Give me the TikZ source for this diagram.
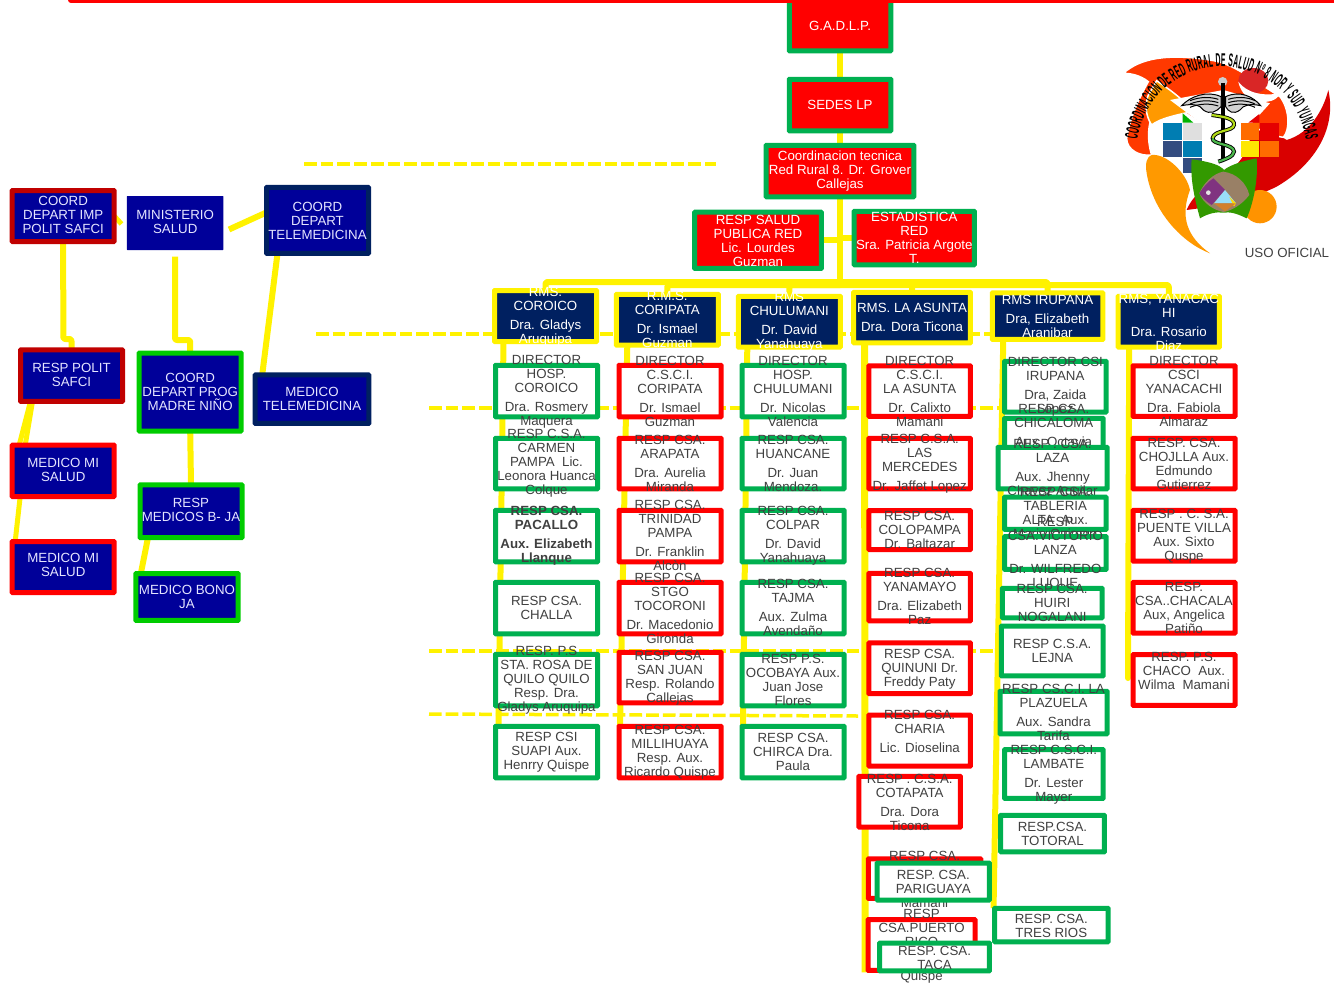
\documentclass[tikz,border=0pt]{standalone}
\usepackage{fontspec}
\setmainfont{Liberation Sans}
\newfontfamily\logofam[FakeStretch=0.37,BoldFeatures={FakeStretch=0.37}]{Liberation Sans}
\newcommand{\logofont}{\logofam\bfseries\fontsize{18.5}{18.5}\selectfont}
\usetikzlibrary{decorations.text,backgrounds}
\definecolor{boxgreen}{HTML}{00B050}
\definecolor{leftgreen}{HTML}{00CC00}
\definecolor{navyhead}{HTML}{002060}
\definecolor{leftblue}{HTML}{000099}
\definecolor{darkred}{HTML}{C00000}
\definecolor{bodygray}{HTML}{404040}
\tikzset{
  basebox/.style={rectangle, rounded corners=0.5pt, inner sep=0pt, outer sep=0pt, line width=5pt},
  greenbox/.style={basebox, draw=boxgreen, fill=white},
  redbox/.style={basebox, draw=red, fill=white},
  topbox/.style={basebox, draw=boxgreen, fill=red},
  headbox/.style={basebox, draw=yellow, fill=navyhead},
  leftbase/.style={basebox, fill=leftblue},
  leftred/.style={leftbase, draw=red},
  leftdark/.style={leftbase, draw=darkred},
  leftnavy/.style={leftbase, draw=navyhead},
  leftlime/.style={leftbase, draw=leftgreen},
  leftplain/.style={basebox, fill=leftblue},
  boxtext/.style={align=center, inner sep=0pt, yshift=-1pt, font=\fontsize{13.3}{14}\selectfont},
  darktext/.style={boxtext, text=bodygray},
  whitetext/.style={boxtext, text=white},
  lighttext/.style={boxtext, text=white!90!blue},
  link/.style={yellow, line width=6pt, line join=round},
  dashlink/.style={yellow, line width=3.5pt, dash pattern=on 12.7pt off 4pt},
}
% box: style, name, x, y, w, h, y of the text, text
\newcommand{\obox}[8]{%
  \node[#1, minimum width=#5pt, minimum height=#6pt] (#2) at (#3,#4) {};
  \node[darktext] (#2Text) at (#3,#7) {#8};}
\newcommand{\wbox}[8]{%
  \node[#1, minimum width=#5pt, minimum height=#6pt] (#2) at (#3,#4) {};
  \node[whitetext] (#2Text) at (#3,#7) {#8};}
\newcommand{\lbox}[8]{%
  \node[#1, minimum width=#5pt, minimum height=#6pt] (#2) at (#3,#4) {};
  \node[lighttext] (#2Text) at (#3,#7) {#8};}
\begin{document}
\begin{tikzpicture}[x=1pt,y=-1pt]
    \useasboundingbox (0,0) rectangle (1334,983);

    % top of the chart
    \wbox{topbox}{gadlp}{840}{22.5}{101.5}{56.5}{25}{G.A.D.L.P.}
    \wbox{topbox}{sedes}{840}{105}{101.5}{51.5}{104}{SEDES LP}
    \wbox{topbox}{coordTec}{840}{171}{147.8}{51.5}{170}{Coordinacion tecnica\\Red Rural 8. Dr. Grover\\Callejas}
    \wbox{topbox}{saludPub}{758}{240.3}{126.8}{56.2}{239.5}{RESP SALUD\\PUBLICA RED\\Lic. Lourdes\\Guzman}
    \wbox{topbox}{estadistica}{914.3}{238}{120.2}{53.5}{237}{ESTADISTICA\\RED\\Sra. Patricia Argote\\T.}
    \draw [red, line width=6pt, line cap=round] (71,0) -- (1345,0);

    % left side
    \lbox{leftdark}{impSafci}{63.2}{216}{102}{51}{214}{COORD\\DEPART IMP\\POLIT SAFCI}
    \lbox{leftplain}{ministerio}{175.2}{223}{96.5}{54}{221}{MINISTERIO\\SALUD}
    \lbox{leftnavy}{coordTele}{317.5}{220.4}{102}{66}{219.5}{COORD\\DEPART\\TELEMEDICINA}
    \lbox{leftdark}{politSafci}{71.5}{375.7}{102}{51.5}{373.5}{RESP POLIT\\SAFCI}
    \lbox{leftlime}{progMadre}{190.2}{392}{102}{78}{391}{COORD\\DEPART PROG\\MADRE NIÑO}
    \lbox{leftnavy}{medicoTele}{312}{399.2}{113.6}{48.5}{398}{MEDICO\\TELEMEDICINA}
    \lbox{leftred}{medicoMiA}{63.2}{470.8}{102}{51.4}{469}{MEDICO MI\\SALUD}
    \lbox{leftred}{medicoMiB}{63.2}{567}{102}{51}{564}{MEDICO MI\\SALUD}
    \lbox{leftlime}{respBono}{191}{511.2}{102}{52.6}{509}{RESP\\MEDICOS B- JA}
    \lbox{leftlime}{medicoBono}{187}{597}{102.4}{46.7}{595.5}{MEDICO BONO\\JA}

    % heads of the six networks
    \wbox{headbox}{rmsCoroico}{545.5}{316}{102}{51}{315.5}{RMS.\\COROICO\\[5pt]Dra. Gladys\\Aruquipa}
    \wbox{headbox}{rmsCoripata}{667.3}{319.7}{102}{50.8}{318.5}{R.M.S.\\CORIPATA\\[5pt]Dr. Ismael\\Guzman}
    \wbox{headbox}{rmsChulumani}{789.3}{321.7}{102}{50.8}{321}{RMS\\CHULUMANI\\[5pt]Dr. David\\Yanahuaya}
    \wbox{headbox}{rmsAsunta}{912}{317.5}{116.9}{50.5}{316.5}{RMS. LA ASUNTA\\[5pt]Dra. Dora Ticona}
    \wbox{headbox}{rmsIrupana}{1047.5}{316.2}{110.5}{46.5}{315}{RMS IRUPANA\\[5pt]Dra, Elizabeth\\Aranibar}
    \wbox{headbox}{rmsYanacachi}{1168.8}{321.7}{101.2}{50.8}{321.5}{RMS, YANACAC\\HI\\[5pt]Dra. Rosario\\Diaz}

    % first column
    \obox{greenbox}{coroicoA}{546.5}{391}{102}{51.5}{390.5}{DIRECTOR\\HOSP.\\COROICO\\[5pt]Dra. Rosmery\\Maquera}
    \obox{greenbox}{coroicoB}{546.5}{463.5}{102}{50.5}{462.5}{RESP C.S.A.\\CARMEN\\PAMPA~ Lic.\\Leonora Huanca\\Colque}
    \obox{greenbox}{coroicoC}{546.5}{536}{102}{51.5}{534.5}{\bfseries RESP CSA.\\\bfseries PACALLO\\[5pt]\bfseries Aux. Elizabeth\\\bfseries Llanque}
    \obox{greenbox}{coroicoD}{546.5}{608}{102}{51.5}{607}{RESP CSA.\\CHALLA}
    \obox{greenbox}{coroicoE}{546.5}{680}{102}{51.5}{679}{RESP. P.S\\STA. ROSA DE\\QUILO QUILO\\Resp. Dra.\\Gladys Aruquipa}
    \obox{greenbox}{coroicoF}{546.5}{752}{102}{51.5}{751}{RESP CSI\\SUAPI Aux.\\Henrry Quispe}

    % second column
    \obox{redbox}{coripataA}{670}{391}{102}{51.5}{390.5}{DIRECTOR\\C.S.C.I.\\CORIPATA\\[5pt]Dr. Ismael\\Guzman}
    \obox{redbox}{coripataB}{670}{463.5}{102}{50.5}{462.5}{RESP CSA.\\ARAPATA\\[5pt]Dra. Aurelia\\Miranda}
    \obox{redbox}{coripataC}{670}{536}{102}{51.5}{534.5}{RESP CSA.\\TRINIDAD\\PAMPA\\[5pt]Dr. Franklin\\Alcòn}
    \obox{redbox}{coripataD}{670}{608}{102}{51.5}{607}{RESP CSA.\\STGO\\TOCORONI\\[5pt]Dr. Macedonio\\Gironda}
    \obox{redbox}{coripataE}{670}{677.5}{102}{50.5}{677}{RESP CSA.\\SAN JUAN\\Resp. Rolando\\Callejas}
    \obox{redbox}{coripataF}{670}{752}{102}{51.5}{751.5}{RESP CSA.\\MILLIHUAYA\\Resp. Aux.\\Ricardo Quispe}

    % third column
    \obox{greenbox}{chulumaniA}{793}{391}{102}{51.5}{390.5}{DIRECTOR\\HOSP.\\CHULUMANI\\[5pt]Dr. Nicolas\\Valencia}
    \obox{greenbox}{chulumaniB}{793}{463.5}{102}{50.5}{462.5}{RESP CSA.\\HUANCANE\\[5pt]Dr. Juan\\Mendoza.}
    \obox{greenbox}{chulumaniC}{793}{536}{102}{51.5}{534.5}{RESP CSA.\\COLPAR\\[5pt]Dr. David\\Yanahuaya}
    \obox{greenbox}{chulumaniD}{793}{608}{102}{51.5}{606.5}{RESP CSA.\\TAJMA\\[5pt]Aux. Zulma\\Avendaño}
    \obox{greenbox}{chulumaniE}{793}{680}{102}{51.5}{679}{RESP P.S.\\OCOBAYA Aux.\\Juan Jose\\Flores}
    \obox{greenbox}{chulumaniF}{793}{752}{102}{51.5}{751}{RESP CSA.\\CHIRCA Dra.\\Paula}

    % fourth column
    \obox{redbox}{asuntaA}{919.7}{391}{101.5}{50.5}{390.5}{DIRECTOR\\C.S.C.I.\\LA ASUNTA\\[5pt]Dr. Calixto\\Mamani}
    \obox{redbox}{asuntaB}{919.7}{463.5}{101.5}{50.5}{462.5}{RESP C.S.A.\\LAS\\MERCEDES\\[5pt]Dr. Jaffet Lopez}
    \obox{redbox}{asuntaC}{919.7}{530}{101.5}{39}{529}{RESP CSA.\\COLOPAMPA\\Dr. Baltazar}
    \obox{redbox}{asuntaD}{919.7}{597}{101.5}{47.5}{595.5}{RESP CSA.\\YANAMAYO\\[5pt]Dra. Elizabeth\\Paz}
    \obox{redbox}{asuntaE}{919.7}{668.3}{101.5}{50.8}{668}{RESP CSA.\\QUINUNI Dr.\\Freddy Paty}
    \obox{redbox}{asuntaF}{919.7}{740.5}{101.5}{51}{730.5}{RESP CSA.\\CHARIA\\[5pt]Lic. Dioselina}
    \obox{redbox}{asuntaG}{909.7}{801.7}{101.5}{50.8}{801.5}{RESP . C.S.A.\\COTAPATA\\[5pt]Dra. Dora\\Ticona}
    \obox{redbox}{asuntaH}{924.5}{878.7}{112.5}{39.5}{878.5}{RESP CSA.\\[33pt]Mamani}
    \obox{greenbox}{asuntaI}{933.3}{881.5}{112.2}{37}{881}{RESP. CSA.\\PARIGUAYA}
    \obox{redbox}{asuntaJ}{921.6}{945}{106.8}{50.9}{945}{RESP\\CSA.PUERTO\\RICO\\[20pt]Quispe}
    \obox{greenbox}{asuntaK}{934.5}{957}{109.9}{27.8}{957}{RESP. CSA.\\TACA}

    % fifth column, the boxes lie over one another
    \obox{greenbox}{irupanaA}{1055.3}{386.7}{101.5}{50.8}{385.5}{DIRECTOR CSI\\IRUPANA\\[5pt]Dra, Zaida\\Lopez}
    \obox{greenbox}{irupanaB}{1053.8}{443}{98.5}{49.5}{424.5}{RESP CSA.\\CHICALOMA\\[5pt]Aux. Octavia}
    \obox{greenbox}{irupanaC}{1052.5}{468}{109}{41.5}{467.5}{RESP . CSA.\\LAZA\\[5pt]Aux. Jhenny\\Chavez Aguilar}
    \obox{greenbox}{irupanaD}{1055.3}{513.3}{101.5}{32.2}{513.5}{RESP CSA.\\TABLERIA\\ALTA~ Aux.\\Maria Quiroga}
    \obox{greenbox}{irupanaE}{1055.3}{553}{101.5}{32.9}{552.5}{RESP\\CSA.VICTORIO\\LANZA\\[5pt]Dr. WILFREDO\\LUQUE}
    \obox{greenbox}{irupanaF}{1052.2}{603}{99.8}{29.5}{602}{RESP CSA.\\HUIRI\\NOGALANI}
    \obox{greenbox}{irupanaG}{1052.2}{651}{101.8}{49.8}{650}{RESP C.S.A.\\LEJNA}
    \obox{greenbox}{irupanaH}{1053.5}{712.5}{107}{42.5}{711.5}{RESP CS.C.I. LA\\PLAZUELA\\[5pt]Aux. Sandra\\Tarifa}
    \obox{greenbox}{irupanaI}{1053.8}{774}{98.5}{48.9}{773.5}{RESP C.S.C.I.\\LAMBATE\\[5pt]Dr. Lester\\Mayer}
    \obox{greenbox}{irupanaJ}{1052.5}{833.5}{103.9}{36.5}{833}{RESP.CSA.\\TOTORAL}
    \obox{greenbox}{irupanaK}{1051.3}{925}{113.5}{33.5}{925}{RESP. CSA.\\TRES RIOS}

    % sixth column
    \obox{redbox}{yanacachiA}{1184}{391}{102}{50.5}{390.5}{DIRECTOR\\CSCI\\YANACACHI\\[5pt]Dra. Fabiola\\Almaraz}
    \obox{redbox}{yanacachiB}{1184}{463.5}{102}{50.5}{462.5}{RESP. CSA.\\CHOJLLA Aux.\\Edmundo\\Gutierrez}
    \obox{redbox}{yanacachiC}{1184}{535.7}{102}{50.8}{535.5}{RESP . C. S.A.\\PUENTE VILLA\\Aux. Sixto\\Quspe}
    \obox{redbox}{yanacachiD}{1184}{607.7}{102}{50.8}{607}{RESP.\\CSA..CHACALA\\Aux, Angelica\\Patiño}
    \obox{redbox}{yanacachiE}{1184}{680}{102}{50.8}{669.5}{RESP. P.S.\\CHACO~ Aux.\\Wilma~ Mamani}

    \coordinate (busTop) at (840,282);
    \coordinate (busLow) at (840,285);
    \coordinate (dashOneA) at (304,164);
    \coordinate (dashOneB) at (716,164);
    \coordinate (dashTwoA) at (316,334);
    \coordinate (dashTwoB) at (992,334);
    \coordinate (dashThreeA) at (429,408);
    \coordinate (dashThreeB) at (1004,408);
    \coordinate (dashFourA) at (429,651);
    \coordinate (dashFourB) at (1001,651);
    \coordinate (dashFiveA) at (429,714);
    \coordinate (dashFiveB) at (858,716);
    \coordinate (stubImp) at (121.5,224);
    \coordinate (stubTele) at (229,229.5);
    \coordinate (stubProg) at (175,256.5);
    \coordinate (bendImp) at (63.3,339);
    \coordinate (bendProg) at (175,340);

    \begin{pgfonlayer}{background}
    \draw [dashlink] (dashOneA) -- (dashOneB);
    \draw [dashlink] (dashTwoA) -- (dashTwoB);
    \draw [dashlink] (dashThreeA) -- (dashThreeB);
    \draw [dashlink] (dashFourA) -- (dashFourB);
    \draw [dashlink] (dashFiveA) -- (dashFiveB);

    \draw [link] (gadlp.south) -- (sedes.north);
    \draw [link] (sedes.south) -- (coordTec.north);
    \draw [link] (coordTec.south) -- (busTop);
    \draw [link] (saludPub.east) -- (saludPub.east -| coordTec.south);
    \draw [link] (estadistica.west) -- (estadistica.west -| coordTec.south);

    \draw [link, rounded corners=2pt] (busTop) -| (rmsCoroico.north);
    \draw [link, rounded corners=2pt] (busLow) -| (rmsCoripata.north);
    \draw [link, rounded corners=2pt] (busLow) -| (rmsChulumani.north);
    \draw [link, rounded corners=2pt] (busTop) -| (rmsAsunta.north);
    \draw [link, rounded corners=2pt] (busTop) -| (rmsIrupana.north);
    \draw [link, rounded corners=2pt] (busLow) -| (rmsYanacachi.north);

    \draw [link] ([xshift=9pt]rmsCoroico.south west) -- ([xshift=3pt]coroicoF.north west);
    \draw [link] ([xshift=11pt]rmsCoripata.south west) -- ([xshift=1pt]coripataF.north west);
    \draw [link] ([xshift=9pt]rmsChulumani.south west) -- ([xshift=1pt]chulumaniF.north west);
    \draw [link, line width=7pt] ([xshift=11pt]rmsAsunta.south west) -- ([xshift=-3pt, yshift=-2pt]asuntaJ.south west);
    \draw [link] ([xshift=11pt]rmsIrupana.south west) -- ([xshift=-1pt]irupanaK.north west);
    \draw [link, line cap=round] ([xshift=11pt]rmsYanacachi.south west) -- ([xshift=-5pt, yshift=2pt]yanacachiE.west);

    \draw [link, line width=5pt] (impSafci.east) -- (stubImp);
    \draw [link] (stubTele) -- ([yshift=8pt]coordTele.west);
    \draw [link, rounded corners=2pt] (impSafci.south) -- (bendImp) -| (politSafci.north);
    \draw [link, rounded corners=2pt] (stubProg) -- (bendProg) -| (progMadre.north);
    \draw [link] ([xshift=11pt]coordTele.south west) -- ([xshift=7pt]medicoTele.north west);
    \draw [link] (progMadre.south) -- (respBono.north);
    \draw [link] ([xshift=8pt]respBono.south west) -- ([xshift=5pt]medicoBono.north west);
    \draw [link, line width=5pt] ([xshift=10pt]politSafci.south west) -- ([xshift=7pt]medicoMiA.north west);
    \draw [link, line width=5pt] ([xshift=12pt]politSafci.south west) -- ([xshift=13pt]medicoMiA.north west);
    \draw [link, line width=5pt] ([xshift=8pt]medicoMiA.south west) -- ([xshift=3pt]medicoMiB.north west);
    \end{pgfonlayer}

    % logo
    \begin{scope}[shift={(1110,40)},x=0.3333pt,y=-0.3333pt]
    \fill [red!85!black] (655,150) .. controls (680,260) and (620,370) .. (500,440) .. controls (420,480) and (310,500) .. (230,510) .. controls (250,460) and (300,430) .. (350,400) .. controls (420,350) and (430,280) .. (420,230) -- (530,300) .. controls (600,280) and (640,210) .. (655,150) -- cycle;
    \draw [white, line width=1.5pt, fill=red!55!orange] (40,100) .. controls (90,55) and (170,40) .. (300,60) .. controls (370,70) and (430,120) .. (510,170) .. controls (540,210) and (540,270) .. (520,292) .. controls (470,285) and (430,260) .. (400,240) -- (340,290) .. controls (280,260) and (200,190) .. (150,190) .. controls (110,230) and (110,300) .. (125,345) .. controls (90,350) and (50,330) .. (50,295) .. controls (60,230) and (90,170) .. (115,125) .. controls (90,105) and (60,100) .. (40,100) -- cycle;
    \fill [orange!80!yellow] (300,640) .. controls (220,610) and (130,520) .. (110,400) .. controls (105,370) and (110,350) .. (125,345) .. controls (170,340) and (230,400) .. (240,450) .. controls (210,530) and (230,590) .. (300,640) -- cycle;
    \draw [white, line width=1.5pt, fill=orange!80!yellow] (140,122) .. controls (180,150) and (225,180) .. (245,215) .. controls (200,225) and (150,235) .. (125,255) .. controls (105,225) and (105,190) .. (115,165) -- cycle;
    \fill [red!70!gray] (430,122) circle [x radius=45, y radius=38];
    \fill [white] (385,125) .. controls (420,170) and (480,165) .. (510,160) .. controls (500,190) and (450,190) .. (425,180) .. controls (405,170) and (390,150) .. (385,125) -- cycle;
    \fill [white] (180,180) -- (340,150) -- (480,190) -- (380,300) -- (345,385) -- (300,340) -- (260,240) -- cycle;
    \fill [orange!85!yellow] (450,500) circle [radius=50];

    % the two crosses of small squares
    \fill [blue!30!cyan!70!black] (160,250) rectangle (215,300);
    \fill [gray!25] (218,250) rectangle (275,300);
    \fill [navyhead!80!white] (160,303) rectangle (215,350);
    \fill [blue!30!cyan!70!black] (218,303) rectangle (275,350);
    \fill [navyhead!80!white] (218,353) rectangle (275,400);
    \fill [green!70!black] (218,220) -- (250,248) -- (218,248) -- cycle;
    \fill [orange!85!red] (392,250) rectangle (448,300);
    \fill [red!90!black] (450,250) rectangle (508,300);
    \fill [yellow!90!orange] (392,303) rectangle (448,350);
    \fill [orange!85!red] (450,303) rectangle (508,350);
    \fill [red!90!black] (415,248) -- (448,222) -- (448,248) -- cycle;

    % staff, wings and snakes
    \fill [gray!40] (338,125) circle [radius=14];
    \fill [black] (334,130) rectangle (345,360);
    \draw [black, fill=gray!35, line width=1pt] (333,170) .. controls (290,150) and (240,170) .. (215,197) .. controls (250,190) and (270,195) .. (280,210) .. controls (300,225) and (320,215) .. (333,200) -- cycle;
    \draw [black, fill=gray!35, line width=1pt] (347,170) .. controls (390,150) and (430,170) .. (452,197) .. controls (420,190) and (400,195) .. (390,210) .. controls (370,225) and (355,215) .. (347,200) -- cycle;
    \foreach \wingY in {178,188,198} {
      \draw [black, line width=1pt] (325,\wingY) .. controls (300,\wingY-8) and (270,\wingY-8) .. (240,\wingY+4);
      \draw [black, line width=1pt] (355,\wingY) .. controls (380,\wingY-8) and (410,\wingY-8) .. (435,\wingY+4);
    }
    \draw [black, line width=4pt] (305,225) .. controls (340,230) and (375,235) .. (372,255) .. controls (370,275) and (310,270) .. (308,295) .. controls (306,315) and (370,310) .. (372,335) .. controls (372,350) and (340,360) .. (325,365);
    \draw [yellow!70!green, line width=2.2pt] (305,225) .. controls (340,230) and (375,235) .. (372,255) .. controls (370,275) and (310,270) .. (308,295);
    \draw [green!60!black!70!white, line width=2.2pt] (308,295) .. controls (306,315) and (370,310) .. (372,335) .. controls (372,350) and (340,360) .. (325,365);

    % the leaves and the small shield
    \fill [green!50!black!80!yellow] (245,358) .. controls (300,365) and (330,375) .. (342,390) .. controls (360,375) and (400,362) .. (440,355) .. controls (445,420) and (430,490) .. (410,535) .. controls (380,520) and (360,515) .. (340,518) .. controls (320,515) and (295,520) .. (270,535) .. controls (255,480) and (240,420) .. (245,358) -- cycle;
    \fill [gray!60!brown] (340,395) .. controls (380,400) and (410,430) .. (418,465) .. controls (395,495) and (365,512) .. (340,516) .. controls (310,510) and (280,490) .. (268,460) .. controls (280,430) and (310,400) .. (340,395) -- cycle;
    \fill [violet!60!gray] (268,460) .. controls (280,440) and (295,425) .. (310,415) -- (345,450) -- (305,495) .. controls (290,485) and (278,475) .. (268,460) -- cycle;
    \fill [cyan!40!white] (345,450) -- (312,490) -- (378,490) -- cycle;
    \fill [yellow!80!orange] (378,490) -- (358,470) -- (372,500) -- cycle;
    \fill [brown!70!orange] (312,490) -- (378,490) -- (345,514) -- cycle;
    \fill [white!80!gray] (295,458) circle [radius=7];

    \coordinate (logoCenter) at (335,335);
    \path [decorate, decoration={text along path, text align=fit to path, text={|\logofont|COORDINACION DE RED RURAL DE SALUD Nº 8 NOR Y SUD YUNGAS}}] (logoCenter) ++(172:85pt) arc [start angle=172, end angle=8, radius=85pt];
    \end{scope}

    \node [darktext] (usoOficial) at (1287,252) {USO OFICIAL};
\end{tikzpicture}
\end{document}
